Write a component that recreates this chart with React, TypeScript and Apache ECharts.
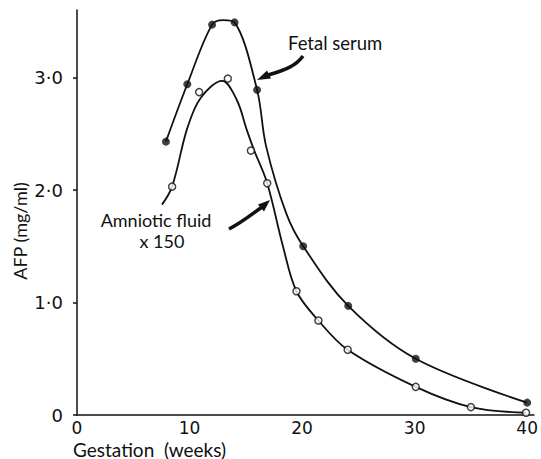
import React, { useEffect, useRef } from "react";
import * as echarts from "echarts";

// Fetal serum: measured points (weeks, mg/ml)
const fetalWeeks = [7.9, 9.8, 12.0, 14.0, 16.0, 20.1, 24.1, 30.1, 40.0];
const fetalAFP = [2.43, 2.94, 3.47, 3.49, 2.89, 1.5, 0.97, 0.5, 0.11];
// Fetal serum fitted curve
const fetalCurveWeeks = [7.9, 9.8, 12.0, 13.0, 14.0, 16.0, 16.8, 18.6, 20.1, 24.1, 30.1, 40.0];
const fetalCurveAFP = [2.43, 2.94, 3.47, 3.51, 3.49, 2.89, 2.39, 1.79, 1.5, 0.97, 0.5, 0.11];

// Amniotic fluid x150: measured points
const amnioWeeks = [8.45, 10.85, 13.4, 15.45, 16.9, 19.5, 21.45, 24.05, 30.1, 35.0, 39.9];
const amnioAFP = [2.03, 2.87, 2.99, 2.35, 2.06, 1.1, 0.84, 0.58, 0.25, 0.07, 0.02];
// Amniotic fluid fitted curve
const amnioCurveWeeks = [7.55, 8.45, 9.8, 11.0, 12.9, 14.2, 15.1, 15.75, 16.9, 18.3, 19.5, 21.45, 24.05, 30.1, 35.0, 39.9];
const amnioCurveAFP = [1.87, 2.03, 2.55, 2.82, 2.97, 2.8, 2.53, 2.35, 2.06, 1.5, 1.1, 0.84, 0.58, 0.25, 0.07, 0.02];

const xTicks = [0, 10, 20, 30, 40];
const yTicks = [0, 1, 2, 3];

const FONT = "Lato, 'DejaVu Sans', sans-serif";
const NUM_FONT = "'DejaVu Sans', sans-serif";

const zip = (xs: number[], ys: number[]) => xs.map((x, i) => [x, ys[i]]);

export default function App() {
  const ref = useRef<HTMLDivElement>(null);
  useEffect(() => {
    if (!ref.current) return;
    const chart = echarts.init(ref.current, undefined, { renderer: "svg" });
    chart.setOption({
      animation: false,
      backgroundColor: "#ffffff",
      grid: { left: 77, right: 0, top: 10, bottom: 44 },
      xAxis: {
        type: "value",
        min: 0,
        max: 40.6,
        interval: 10,
        axisLine: { show: true, lineStyle: { color: "#111", width: 1.5 } },
        axisTick: { show: false },
        splitLine: { show: false },
        axisLabel: {
          color: "#111",
          fontSize: 17,
          fontFamily: NUM_FONT,
          margin: 4,
          showMaxLabel: false,
          formatter: (v: number) => (xTicks.includes(v) ? String(v) : ""),
        },
      },
      yAxis: {
        type: "value",
        min: 0,
        max: 3.6,
        interval: 1,
        axisLine: { show: true, lineStyle: { color: "#111", width: 1.5 } },
        axisTick: { show: true, length: 4, lineStyle: { color: "#111", width: 1.5 } },
        splitLine: { show: false },
        axisLabel: {
          color: "#111",
          fontSize: 18,
          fontFamily: NUM_FONT,
          margin: 14,
          showMaxLabel: false,
          formatter: (v: number) =>
            yTicks.includes(v) ? (v === 0 ? "0" : v.toFixed(1).replace(".", "·")) : "",
        },
      },
      series: [
        {
          type: "line",
          data: zip(fetalCurveWeeks, fetalCurveAFP),
          smooth: 0.35,
          showSymbol: false,
          lineStyle: { color: "#111", width: 1.8 },
          z: 2,
        },
        {
          type: "line",
          data: zip(amnioCurveWeeks, amnioCurveAFP),
          smooth: 0.35,
          showSymbol: false,
          lineStyle: { color: "#111", width: 1.8 },
          z: 2,
        },
        {
          type: "scatter",
          data: zip(fetalWeeks, fetalAFP),
          symbol: "circle",
          symbolSize: 8,
          itemStyle: { color: "#111" },
          z: 3,
        },
        {
          type: "scatter",
          data: zip(amnioWeeks, amnioAFP),
          symbol: "circle",
          symbolSize: 7,
          itemStyle: { color: "#fff", borderColor: "#111", borderWidth: 1.5 },
          z: 3,
        },
      ],
      graphic: [
        {
          type: "text",
          x: 20,
          y: 231,
          rotation: Math.PI / 2,
          style: {
            text: "AFP (mg/ml)",
            fill: "#111",
            font: `18px ${FONT}`,
            align: "center",
            verticalAlign: "middle",
          },
        },
        {
          type: "text",
          x: 73,
          y: 449,
          style: {
            text: "Gestation  (weeks)",
            fill: "#111",
            font: `19px ${FONT}`,
            align: "left",
            verticalAlign: "middle",
          },
        },
        {
          type: "text",
          x: 288,
          y: 43,
          style: {
            text: "Fetal serum",
            fill: "#111",
            font: `18.5px ${FONT}`,
            align: "left",
            verticalAlign: "middle",
          },
        },
        {
          type: "text",
          x: 156,
          y: 220,
          style: {
            text: "Amniotic fluid",
            fill: "#111",
            font: `18px ${FONT}`,
            align: "center",
            verticalAlign: "middle",
          },
        },
        {
          type: "text",
          x: 162,
          y: 241,
          style: {
            text: "x 150",
            fill: "#111",
            font: `18px ${FONT}`,
            align: "center",
            verticalAlign: "middle",
          },
        },
        {
          type: "bezierCurve",
          shape: { x1: 303, y1: 56, cpx1: 296, cpy1: 66, cpx2: 285, cpy2: 70, x2: 268, y2: 75 },
          style: { stroke: "#111", lineWidth: 3.5, fill: null },
        },
        {
          type: "polygon",
          shape: { points: [[257, 80], [271, 78.5], [267, 70.5]] },
          style: { fill: "#111" },
        },
        {
          type: "bezierCurve",
          shape: { x1: 229, y1: 229, cpx1: 241, cpy1: 223, cpx2: 251, cpy2: 215, x2: 262, y2: 207 },
          style: { stroke: "#111", lineWidth: 3.5, fill: null },
        },
        {
          type: "polygon",
          shape: { points: [[270, 200], [264, 211.5], [258, 204.5]] },
          style: { fill: "#111" },
        },
      ],
    });
    return () => chart.dispose();
  }, []);
  return <div ref={ref} style={{ width: 541, height: 459, position: "absolute", left: 0, top: 0 }} />;
}
